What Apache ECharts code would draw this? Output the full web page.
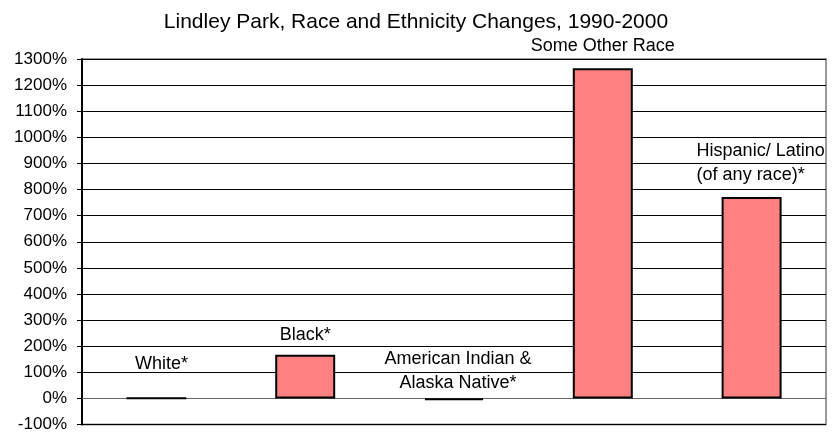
<!DOCTYPE html>
<html>
<head>
<meta charset="utf-8">
<script src="https://cdn.jsdelivr.net/npm/echarts@6/dist/echarts.min.js"></script>
<style>
  html, body { margin: 0; padding: 0; background: #fff; }
  #chart { width: 832px; height: 433px; }
</style>
</head>
<body>
<div id="chart"></div>
<script>
const categories = ['White*', 'Black*', 'American Indian &\nAlaska Native*', 'Some Other Race', 'Hispanic/ Latino\n(of any race)*'];
const changes = [1, 167, -7, 1265, 771];
// manual label nudges, like the hand-moved data labels in the original
const labelOffsets = [[5, -16], [0, -3], [4, 2], [0, -5], [-55, -5]];
const labelAligns = ['center', 'center', 'center', 'center', 'left'];

const chart = echarts.init(document.getElementById('chart'));

const seriesData = changes.map(function(v, i) {
  return {
    value: v,
    label: {
      formatter: categories[i],
      offset: labelOffsets[i],
      align: labelAligns[i],
    },
  };
});

chart.setOption({
  animation: false,
  textStyle: {
    fontFamily: 'Liberation Sans, Arial, sans-serif',
  },
  title: {
    text: 'Lindley Park, Race and Ethnicity Changes, 1990-2000',
    left: 'center',
    top: 7,
    textStyle: {
      fontSize: 21,
      fontWeight: 'normal',
      color: '#000',
      fontFamily: 'Liberation Sans, Arial, sans-serif',
    },
  },
  grid: {
    left: 82,
    right: 6,
    top: 59,
    bottom: 7,
    show: true,
    borderColor: '#999',
    borderWidth: 2,
    backgroundColor: 'transparent',
  },
  xAxis: {
    type: 'category',
    data: categories,
    axisLine: { show: true, onZero: true, lineStyle: { color: '#666', width: 1 } },
    axisTick: { show: false },
    axisLabel: { show: false },
    splitLine: { show: false },
  },
  yAxis: {
    type: 'value',
    min: -100,
    max: 1300,
    interval: 100,
    axisLine: { show: true, lineStyle: { color: '#000', width: 2 } },
    axisTick: { show: true, inside: false, length: 5, lineStyle: { color: '#000' } },
    axisLabel: {
      formatter: function(v) { return v + '%'; },
      fontSize: 17,
      color: '#000',
      margin: 15,
    },
    splitLine: { show: true, lineStyle: { color: '#000', width: 1 } },
  },
  series: [
    {
      type: 'bar',
      data: seriesData,
      barWidth: 60,
      itemStyle: {
        color: '#FF8080',
        borderColor: '#000',
        borderWidth: 2,
      },
      label: {
        show: true,
        position: 'top',
        fontSize: 18,
        lineHeight: 24,
        color: '#000',
      },
    },
  ],
});
</script>
</body>
</html>
